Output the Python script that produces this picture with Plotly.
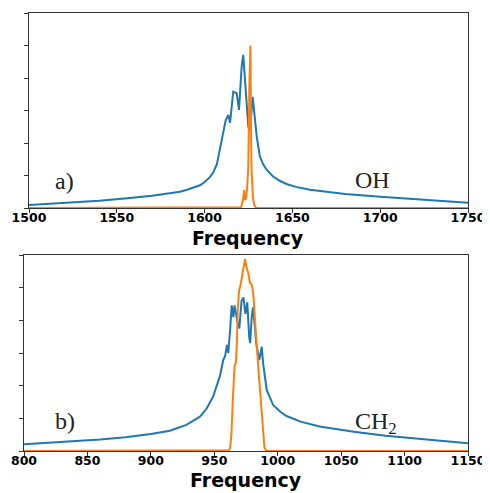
import plotly.graph_objects as go

# ---- Panel a) OH ----
oh_blue_freq = [1500, 1520, 1540, 1557.5, 1570, 1586, 1590, 1597.4, 1600, 1603, 1605, 1607,
                1608.8, 1610.7, 1612, 1613.5, 1614.5, 1616.3, 1618.3, 1619.6, 1621.1, 1622,
                1623.6, 1624.9, 1625.9, 1627.4, 1629.7, 1631.5, 1633.5, 1635.4, 1639, 1643,
                1647, 1652, 1660, 1680, 1700, 1720, 1750]
oh_blue_val = [0.09, 0.15, 0.22, 0.31, 0.38, 0.50, 0.56, 0.70, 0.80, 0.95, 1.1, 1.35,
               1.8, 2.3, 2.7, 2.86, 2.62, 3.58, 3.53, 3.02, 4.35, 4.71,
               3.42, 2.5, 2.4, 3.42, 2.19, 1.58, 1.33, 1.17, 0.97, 0.83,
               0.73, 0.65, 0.56, 0.43, 0.35, 0.27, 0.16]

oh_orange_freq = [1500, 1620, 1620.8, 1622, 1622.5, 1623, 1623.6, 1624.2, 1624.9, 1625.5,
                  1626.1, 1626.5, 1626.8, 1627.5, 1628.2, 1629.3, 1750]
oh_orange_val = [0, 0, 0.02, 0.3, 0.55, 0.25, 0.3, 0.6, 1.3, 3.8,
                 5.0, 2.0, 1.1, 0.35, 0.1, 0.0, 0]

# ---- Panel b) CH2 ----
ch2_blue_freq = [800, 830, 860, 880, 900, 915, 928, 938.7, 944, 949, 952, 954.5, 957, 958.5,
                 960, 961, 962.5, 963.7, 965, 966, 968, 969.7, 971.5, 973, 974.5, 976, 977.5,
                 978.3, 979.5, 980.5, 982, 983, 985.5, 987.4, 988.5, 991.3, 996.5, 1002, 1007,
                 1018, 1033, 1060, 1085, 1112, 1130, 1150]
ch2_blue_val = [0.21, 0.27, 0.35, 0.42, 0.52, 0.62, 0.8, 1.05, 1.3, 1.66, 2.0, 2.3, 2.78, 2.9,
                3.25, 3.0, 3.7, 4.46, 4.1, 4.46, 4.0, 3.75, 4.6, 4.7, 4.2, 4.55, 3.5,
                3.3, 4.1, 4.4, 3.8, 3.3, 2.78, 3.19, 2.68, 1.87, 1.4, 1.2, 1.07,
                0.9, 0.75, 0.59, 0.47, 0.37, 0.3, 0.24]

ch2_orange_freq = [800, 960, 961.5, 962.5, 963.5, 964.5, 965.3, 966, 967, 967.8, 968.5, 969.5,
                   970.8, 972, 973.2, 974.2, 975.5, 976.8, 978, 979.4, 980.7, 982, 983.3,
                   984.6, 986, 987.3, 988.5, 989.5, 990.5, 992, 1150]
ch2_orange_val = [0, 0, 0.02, 0.1, 0.5, 1.5, 2.2, 2.6, 2.7, 3.3, 4.3, 4.9,
                  5.1, 5.4, 5.6, 5.88, 5.6, 5.45, 5.15, 5.1, 4.85, 4.2, 3.3,
                  2.6, 1.8, 1.1, 0.45, 0.12, 0.03, 0, 0]

oh_ticks = [1500, 1550, 1600, 1650, 1700, 1750]
ch2_ticks = [800, 850, 900, 950, 1000, 1050, 1100, 1150]
y_ticks = [0, 1, 2, 3, 4, 5, 6]

BLUE = "#1f77b4"
ORANGE = "#ff7f0e"
LW = 2

fig = go.Figure()
fig.add_trace(go.Scatter(x=oh_blue_freq, y=oh_blue_val, mode="lines",
                         line=dict(color=BLUE, width=LW), xaxis="x", yaxis="y"))
fig.add_trace(go.Scatter(x=oh_orange_freq, y=oh_orange_val, mode="lines",
                         line=dict(color=ORANGE, width=LW), xaxis="x", yaxis="y"))
fig.add_trace(go.Scatter(x=ch2_blue_freq, y=ch2_blue_val, mode="lines",
                         line=dict(color=BLUE, width=LW), xaxis="x2", yaxis="y2"))
fig.add_trace(go.Scatter(x=ch2_orange_freq, y=ch2_orange_val, mode="lines",
                         line=dict(color=ORANGE, width=LW), xaxis="x2", yaxis="y2"))

# The page body has an 8px default margin: shrink the figure and shift coordinates.
OFF = 8
W, H = 490 - OFF, 493 - OFF
tickfont = dict(family="DejaVu Sans", size=12.5, color="black", weight="bold")
titlefont = dict(family="DejaVu Sans", size=19, color="black", weight="bold")
LINEC = "#333333"

def px(x):
    return (x - OFF) / W

def py(y):
    return (H - (y - OFF)) / H

def xax(left, right, ticks, anchor):
    return dict(domain=[px(left), px(right)], range=[ticks[0], ticks[-1]], tickvals=ticks,
                ticks="outside", ticklen=3.5, tickwidth=1, tickcolor=LINEC, showline=True,
                linecolor=LINEC, linewidth=1.2, mirror=True, showgrid=False, zeroline=False,
                anchor=anchor, tickfont=tickfont, automargin=False, ticklabelstandoff=-6)

def yax(bottom, top, anchor):
    return dict(domain=[py(bottom), py(top)], range=[0, 6], tickvals=y_ticks,
                ticks="outside", ticklen=3.5, tickwidth=1, tickcolor=LINEC,
                showticklabels=False, showline=True, linecolor=LINEC, linewidth=1.2,
                mirror=True, showgrid=False, zeroline=False, anchor=anchor, automargin=False)

serif = dict(family="Liberation Serif", size=24, color="#222222")

def ann(text, x, y, font):
    return dict(text=text, xref="paper", yref="paper", x=px(x), y=py(y),
                showarrow=False, font=font, xanchor="center", yanchor="middle")

fig.update_layout(
    width=W, height=H, margin=dict(l=0, r=0, t=0, b=0, autoexpand=False),
    paper_bgcolor="white", plot_bgcolor="white", showlegend=False,
    xaxis=xax(29, 468, oh_ticks, "y"),
    yaxis=yax(208, 13, "x"),
    xaxis2=xax(24, 468, ch2_ticks, "y2"),
    yaxis2=yax(451, 255, "x2"),
    annotations=[
        ann("a)", 64, 181, serif),
        ann("OH", 372, 180, serif),
        ann("b)", 65, 421, serif),
        ann("CH<sub>2</sub>", 376, 423, serif),
        ann("Frequency", 248, 238, titlefont),
        ann("Frequency", 246, 480, titlefont),
    ],
)

fig.write_html("out.html")
